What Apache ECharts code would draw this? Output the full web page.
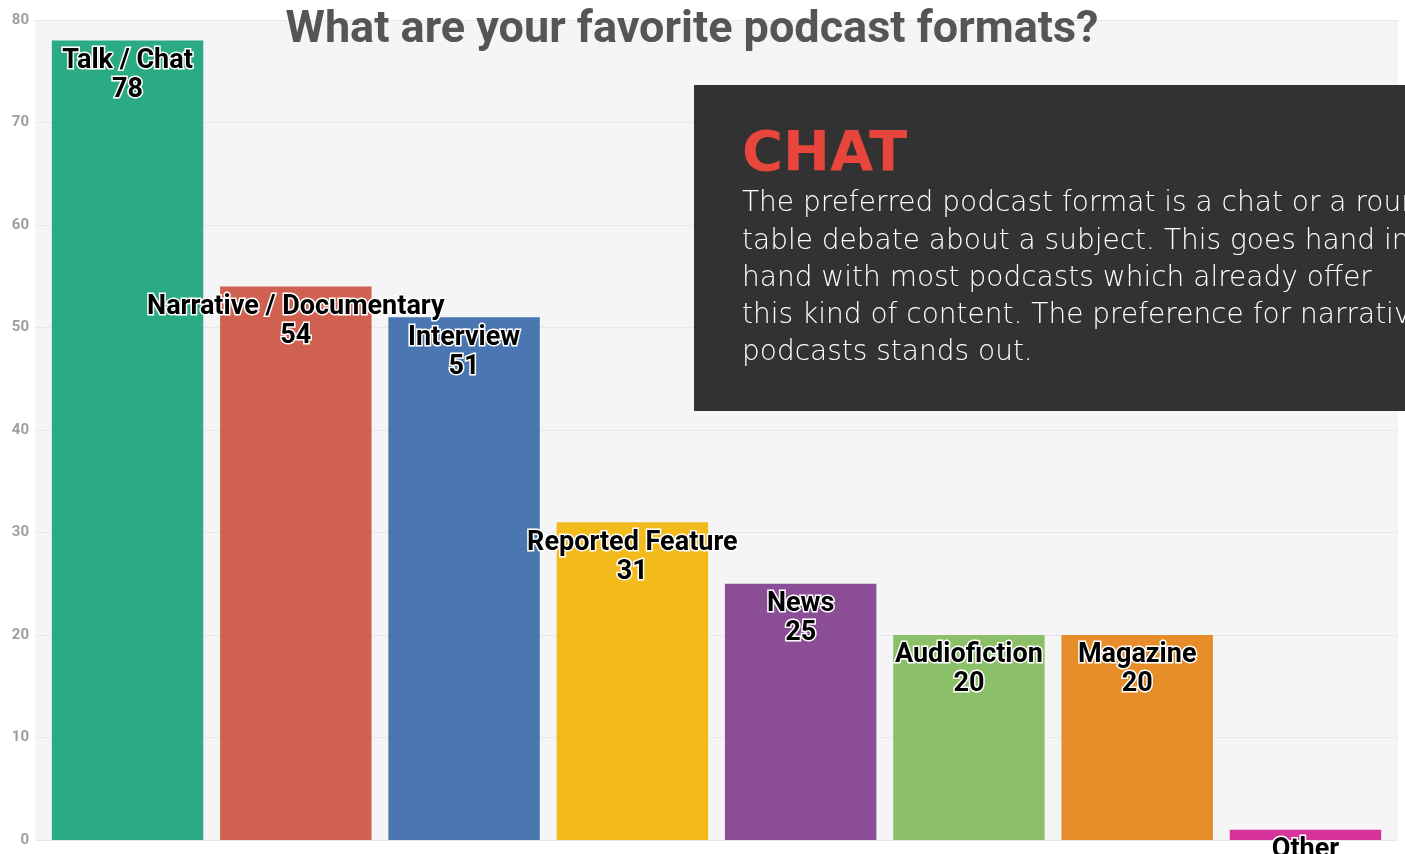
<!DOCTYPE html>
<html>
<head>
<meta charset="utf-8">
<script src="https://cdn.jsdelivr.net/npm/echarts@6/dist/echarts.min.js"></script>
<style>
html,body{margin:0;padding:0;background:#fff;}
#chart{width:1405px;height:854px;}
</style>
</head>
<body>
<div id="chart"></div>
<script>
const categories = ['Talk / Chat','Narrative / Documentary','Interview','Reported Feature','News','Audiofiction','Magazine','Other'];
const values = [78, 54, 51, 31, 25, 20, 20, 1];
const yTicks = [0, 10, 20, 30, 40, 50, 60, 70, 80];
const titleText = 'What are your favorite podcast formats?';
const noteTitle = 'CHAT';
const noteLines = [
  'The preferred podcast format is a chat or a round',
  'table debate about a subject. This goes hand in',
  'hand with most podcasts which already offer',
  'this kind of content. The preference for narrative',
  'podcasts stands out.'
];
const palette = ['#2aab84','#d06150','#4a76b2','#f2bb1b','#8a4d96','#8cc068','#e68d29','#d7339a'];

const chart = echarts.init(document.getElementById('chart'), null, {renderer:'canvas'});
const yMin = yTicks[0], yMax = yTicks[yTicks.length-1], yStep = yTicks[1]-yTicks[0];

const option = {
  animation: false,
  backgroundColor: '#ffffff',
  grid: [
    {left:35, right:7, top:20, bottom:14, show:true, backgroundColor:'#f5f5f5', borderWidth:0},
    {left:43.4, right:15.4, top:20, bottom:14}
  ],
  xAxis: [
    {gridIndex:0, type:'value', show:false, min:0, max:1},
    {gridIndex:1, type:'category', data:categories, show:false}
  ],
  yAxis: [
    {gridIndex:0, type:'value', min:yMin, max:yMax, interval:yStep,
     axisLine:{show:false}, axisTick:{show:false},
     axisLabel:{color:'#9e9e9e', fontSize:15, fontWeight:'bold', fontFamily:'Roboto', margin:6},
     splitLine:{lineStyle:{color:'#e8e8e8', width:1}}},
    {gridIndex:1, type:'value', min:yMin, max:yMax, interval:yStep, show:false, splitLine:{show:false}}
  ],
  series: [{
    type:'bar',
    xAxisIndex:1, yAxisIndex:1,
    data: values.map((v,i)=>({value:v, itemStyle:{color:palette[i]}})),
    barCategoryGap:'10%',
    label:{
      show:true, position:'insideTop', distance:6,
      formatter:'{b}\n{c}',
      color:'#000', fontSize:27, fontWeight:'bold', lineHeight:29,
      fontFamily:'Liberation Sans Narrow, Roboto, sans-serif',
      textBorderColor:'#fff', textBorderWidth:3
    }
  }],
  graphic: [
    {type:'text', x:692, y:31, z:10,
     style:{text:titleText, font:'bold 45px Roboto, sans-serif', fill:'#555555', textAlign:'center', textVerticalAlign:'middle'}},
    {type:'rect', shape:{x:694, y:85, width:720, height:326}, z:20,
     style:{fill:'#323232'}},
    {type:'text', x:742, y:155, z:21,
     style:{text:noteTitle, font:'bold 56px "DejaVu Sans", sans-serif', fill:'#e8453c', textVerticalAlign:'middle'}},
    ...noteLines.map((t,i)=>({type:'text', x:742, y:204+i*37.3, z:21,
     style:{text:t, font:'200 28px "DejaVu Sans", sans-serif', fill:'#ffffff', textVerticalAlign:'middle'}}))
  ]
};
chart.setOption(option);
</script>
</body>
</html>
